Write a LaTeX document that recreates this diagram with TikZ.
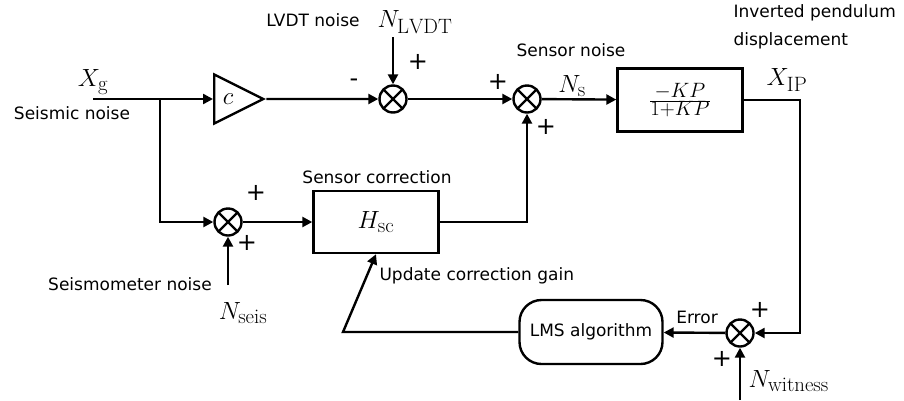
\documentclass[tikz,border=0pt]{standalone}
\usepackage{fontspec}
\newfontfamily\labelfont{DejaVu Sans}
\usetikzlibrary{arrows.meta,positioning,shapes.geometric,calc}

\begin{document}
\begin{tikzpicture}[x=1pt,y=-1pt,line width=2.4pt,
    >={Triangle[length=10pt,width=10pt]},
    sumnode/.style={draw,circle,minimum size=27pt,inner sep=0pt,
        path picture={\draw (path picture bounding box.north west) -- (path picture bounding box.south east)
            (path picture bounding box.south west) -- (path picture bounding box.north east);}},
    blockbox/.style={draw,minimum width=125pt,minimum height=62pt,font=\Huge},
    txt/.style={font=\labelfont\fontsize{17}{20}\selectfont},
    sign/.style={font=\labelfont\fontsize{24}{26}\selectfont},
    mathlbl/.style={font=\Huge}]
    \useasboundingbox (0,0) rectangle (904,400);

    % blocks and summing points
    \node[draw,isosceles triangle,isosceles triangle stretches,minimum width=49pt,minimum height=49pt,
        inner sep=0pt,anchor=west,font=\Huge] (amp) at (213,99) {$c$};
    \node[sumnode] (sumL) at (393,99) {};
    \node[sumnode] (sumS) at (527,99) {};
    \node[blockbox,minimum height=63pt] (plant) at (680,100) {$\frac{-KP}{1+KP}$};
    \node[sumnode] (sumC) at (228,222) {};
    \node[blockbox] (hsc) at (376,222) {$H_{\mathrm{sc}}$};
    \node[draw,rounded corners=22pt,minimum width=143pt,minimum height=64pt,txt] (lms) at (591,332) {LMS algorithm};
    \node[sumnode] (sumW) at (740,333) {};

    \coordinate (xg) at (93,99);
    \coordinate (split) at (160,99);
    \coordinate (lvdtin) at (393,37);
    \coordinate (seisin) at (228,285);
    \coordinate (turn) at (343,332);
    \coordinate (witin) at (740,400);

    % math labels
    \node[mathlbl] (lXg) at (93,82) {$X_{\mathrm{g}}$};
    \node[mathlbl] (lLVDT) at (415,22) {$N_{\mathrm{LVDT}}$};
    \node[mathlbl] (lNs) at (572,86) {$N_{\mathrm{s}}$};
    \node[mathlbl] (lXIP) at (787,80) {$X_{\mathrm{IP}}$};
    \node[mathlbl] (lNseis) at (243,313) {$N_{\mathrm{seis}}$};
    \node[mathlbl,anchor=west] (lNwit) at (744,381) {$N_{\mathrm{witness}}$};

    % text labels
    \node[txt] (tSeismic) at (72,113) {Seismic noise};
    \node[txt] (tLVDT) at (313,20) {LVDT noise};
    \node[txt] (tSens) at (571,50) {Sensor noise};
    \node[txt,anchor=west,align=left,font=\labelfont\fontsize{17}{28}\selectfont] (tIP) at (729,27) {Inverted pendulum\\displacement};
    \node[txt] (tCorr) at (377,177) {Sensor correction};
    \node[txt] (tSeis) at (130,284) {Seismometer noise};
    \node[txt,anchor=west] (tGain) at (375,276) {Update correction gain};
    \node[txt] (tErr) at (697,317) {Error};

    % signs
    \foreach \i/\x/\y/\s in {1/354/83/-,2/418/62/+,3/498/82/+,4/546/127/+,
        5/256/193/+,6/247/243/+,7/760/310/+,8/722/359/+}{
        \node[sign] (sg\i) at (\x,\y) {\s};
    }

    % connectors
    \draw[->] (xg) -- (amp.west);
    \draw[->] (amp.east) -- (sumL);
    \draw[->] (lvdtin) -- (sumL);
    \draw[->] (sumL) -- (sumS);
    \draw[->] (sumS) -- (plant);
    \draw[->] (plant.east) -- ++(56,0) |- (sumW.east);
    \draw[->] (split) |- (sumC);
    \draw[->] (seisin) -- (sumC);
    \draw[->] (sumC) -- (hsc);
    \draw[->] (hsc) -| (sumS);
    \draw[->] (sumW) -- (lms);
    \draw[->] (lms.west) -- (turn) -- (hsc.south);
    \draw[->] (witin) -- (sumW);
\end{tikzpicture}
\end{document}
